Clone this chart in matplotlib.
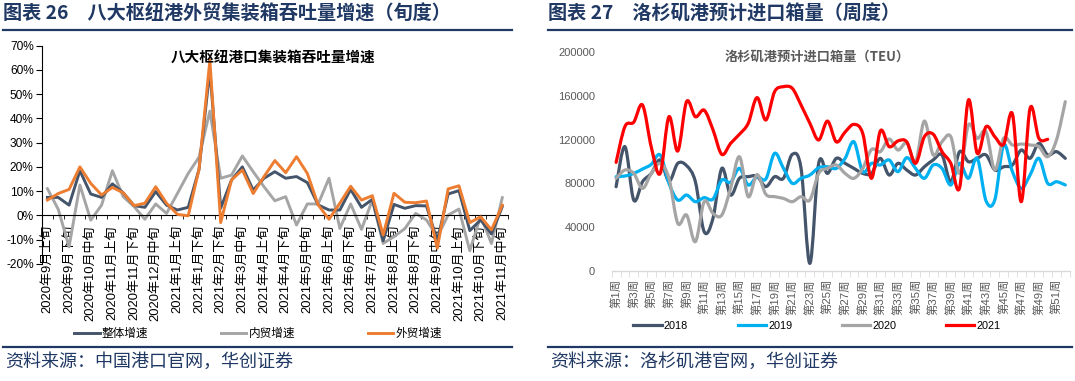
import matplotlib.pyplot as plt
import numpy as np
from matplotlib.lines import Line2D
from matplotlib.patches import PathPatch
from matplotlib.path import Path

plt.rcParams["font.family"] = ["Liberation Sans", "Noto Sans CJK SC", "DejaVu Sans"]

W, H = 1075, 381

# ---- left chart: 八大枢纽港 (旬度, %) ----
DEKADS = [
    "2020年9月上旬", "2020年9月中旬", "2020年9月下旬",
    "2020年10月上旬", "2020年10月中旬", "2020年10月下旬",
    "2020年11月上旬", "2020年11月中旬", "2020年11月下旬",
    "2020年12月上旬", "2020年12月中旬", "2020年12月下旬",
    "2021年1月上旬", "2021年1月中旬", "2021年1月下旬",
    "2021年2月上旬", "2021年2月下旬",
    "2021年3月上旬", "2021年3月中旬", "2021年3月下旬",
    "2021年4月上旬", "2021年4月中旬", "2021年4月下旬",
    "2021年5月上旬", "2021年5月中旬", "2021年5月下旬",
    "2021年6月上旬", "2021年6月中旬", "2021年6月下旬",
    "2021年7月上旬", "2021年7月中旬", "2021年7月下旬",
    "2021年8月上旬", "2021年8月中旬", "2021年8月下旬",
    "2021年9月上旬", "2021年9月中旬", "2021年9月下旬",
    "2021年10月上旬", "2021年10月中旬", "2021年10月下旬",
    "2021年11月上旬", "2021年11月中旬",
]
TOTAL = [7.4, 7.4, 4.2, 18.4, 8.8, 7.4, 13.0, 9.3, 4.0, 3.3, 9.8, 4.2, 2.2, 3.3,
         19.0, 60.0, 3.0, 14.6, 20.0, 10.4, 15.3, 18.0, 15.3, 16.0, 13.5, 4.3,
         2.2, 2.2, 10.7, 3.3, 6.6, -10.5, 4.5, 2.9, 4.0, 3.9, -10.5, 8.8, 10.2,
         -6.3, -1.9, -7.7, 3.6]
DOMESTIC = [11.0, 2.5, -13.0, 12.5, -2.0, 4.2, 18.4, 7.7, 3.6, -1.6, 4.7, 0.8,
            9.0, 17.3, 24.0, 43.0, 15.3, 16.6, 24.5, 18.0, 11.8, 6.0, 7.7, -4.0,
            4.7, 4.7, 15.3, -5.4, 4.7, -5.8, 6.3, -11.6, -8.8, -5.5, 0.8, -1.9,
            -9.0, 0.1, 2.6, -14.6, -0.3, -11.6, 7.3]
FOREIGN = [6.3, 9.0, 10.7, 20.0, 13.2, 8.4, 11.5, 9.3, 4.0, 5.0, 11.8, 5.0, 0.4,
           -0.2, 19.0, 64.0, -3.0, 14.6, 18.7, 9.0, 16.0, 22.6, 17.6, 24.2, 17.3,
           4.3, -1.6, 5.0, 12.0, 6.3, 8.1, -8.1, 9.1, 5.4, 5.2, 5.9, -13.6, 10.9,
           12.2, -3.0, -0.6, -6.0, 4.2]

# ---- right chart: 洛杉矶港 (周度, TEU) ----
WEEKS = list(range(1, 53))
Y2018 = [76900, 113600, 64700, 81500, 89100, 101400, 82000, 98300, 96200, 81500,
         35700, 48000, 93700, 69300, 84600, 86100, 86500, 77000, 86100, 84600,
         106500, 93700, 6700, 98300, 89100, 102900, 98300, 93700, 89100, 89100,
         102900, 87600, 98300, 92200, 87600, 95200, 101400, 106000, 81500, 109000,
         99800, 102900, 106000, 92200, 95200, 96800, 110500, 102900, 116600, 106000,
         109000, 102900]
Y2019 = [86100, 86700, 89100, 93100, 97400, 106000, 80000, 64700, 69300, 63200,
         66900, 65600, 83000, 80900, 93700, 78500, 86100, 84000, 107500, 93700,
         80000, 84600, 87600, 94300, 95200, 93700, 102900, 118100, 90700, 98300,
         96800, 101400, 90700, 103500, 93700, 84600, 96800, 93700, 78500, 98300,
         84600, 102900, 64000, 65000, 115100, 90700, 75400, 87600, 102900, 80000,
         81500, 78500]
Y2020 = [84600, 92200, 89100, 75400, 89100, 98300, 84600, 43400, 51000, 26600,
         63200, 52500, 51000, 75400, 104400, 67800, 88000, 70000, 67800, 66200,
         63200, 67800, 64700, 89100, 93700, 96800, 89100, 84600, 93700, 111000,
         109000, 120600, 110500, 117000, 100000, 137000, 106000, 118100, 122700, 89100,
         133400, 121200, 127300, 92200, 121200, 115100, 116000, 115100, 113600, 104400,
         119700, 154800]
Y2021 = [99200, 132000, 136000, 151700, 113000, 89000, 141000, 109600, 154800, 141000,
         147000, 129000, 106500, 116600, 124900, 135000, 158500, 138000, 164000, 168500,
         167000, 151700, 135000, 119700, 137000, 118000, 127000, 134000, 125800, 84600,
         128000, 113600, 118800, 118000, 98300, 122700, 125000, 109000, 98300, 76000,
         156300, 107500, 131900, 122700, 115700, 143400, 63200, 148700, 121200, 120300]

NAVY = "#203864"
C_TOTAL = "#44546A"
C_GRAY = "#A5A5A5"
C_ORANGE = "#ED7D31"
C_CYAN = "#00B0F0"
C_RED = "#FF0000"
TXT_GRAY = "#595959"


def fx(px):
    return px / W


def fy(py):
    return 1 - py / H


def smooth_path(xs, ys):
    """Excel-like smoothed line as cubic Bezier path through the points"""
    pts = np.column_stack([xs, ys]).astype(float)
    n = len(pts)
    verts = [pts[0]]
    codes = [Path.MOVETO]
    for i in range(n - 1):
        p0 = pts[i - 1] if i > 0 else pts[i]
        p1 = pts[i]
        p2 = pts[i + 1]
        p3 = pts[i + 2] if i + 2 < n else pts[i + 1]
        verts += [p1 + (p2 - p0) / 6, p2 - (p3 - p1) / 6, p2]
        codes += [Path.CURVE4] * 3
    return Path(verts, codes)


fig = plt.figure(figsize=(W / 100, H / 100), dpi=100)

# headers and footers
for x0, x1, head, src in [
    (3, 512, "图表 26　八大枢纽港外贸集装箱吞吐量增速（旬度）", "资料来源：中国港口官网，华创证券"),
    (548, 1072, "图表 27　洛杉矶港预计进口箱量（周度）", "资料来源：洛杉矶港官网，华创证券"),
]:
    fig.text(fx(x0), fy(14), head, fontsize=13.8, fontweight="bold", color=NAVY,
             va="center", family=["Noto Sans CJK SC"])
    fig.add_artist(Line2D([fx(x0), fx(x1)], [fy(30), fy(30)], color=NAVY, lw=1.6))
    fig.add_artist(Line2D([fx(x0), fx(x1)], [fy(347), fy(347)], color=NAVY, lw=1.6))
    fig.text(fx(x0 + 2), fy(362), src, fontsize=13, color=NAVY, va="center",
             family=["Noto Sans CJK SC"])

# ---- left ----
ax1 = fig.add_axes([fx(42), fy(263.8), fx(465.7), 218.1 / H])
ax1.spines["bottom"].set_position(("data", 0))
ax1.spines["top"].set_visible(False)
ax1.spines["right"].set_visible(False)
idx = np.arange(len(DEKADS))
l_tot, = ax1.plot(idx, TOTAL, color=C_TOTAL, lw=2.1, zorder=3)
l_dom, = ax1.plot(idx, DOMESTIC, color=C_GRAY, lw=2.1, zorder=2)
l_for, = ax1.plot(idx, FOREIGN, color=C_ORANGE, lw=2.1, zorder=4)
ax1.set_xlim(-0.5, len(DEKADS) - 0.5)
ax1.set_ylim(-20, 70)
ax1.set_yticks(range(-20, 71, 10))
ax1.set_yticklabels([f"{v}%" for v in range(-20, 71, 10)], fontsize=8.6)
ax1.set_xticks(idx[::2])
ax1.set_xticklabels(DEKADS[::2], rotation=90, fontsize=9.4, va="top")
ax1.set_xticks(np.arange(-0.5, len(DEKADS), 1), minor=True)
ax1.tick_params(axis="x", which="major", length=0, pad=7)
ax1.tick_params(axis="x", which="minor", length=3, direction="out")
ax1.tick_params(axis="y", length=4, direction="out", pad=2)
ax1.set_axisbelow(True)
ax1.patch.set_visible(False)
fig.text(fx(273), fy(57), "八大枢纽港口集装箱吞吐量增速", fontsize=10.5,
         fontweight="bold", ha="center", va="center", family=["Noto Sans CJK SC"])
ax1.legend([l_tot, l_dom, l_for], ["整体增速", "内贸增速", "外贸增速"], loc="center",
           bbox_to_anchor=(fx(258), fy(334)), bbox_transform=fig.transFigure,
           ncol=3, frameon=False, fontsize=8.4, handlelength=2.2,
           handletextpad=0.2, columnspacing=6.2)

# ---- right ----
ax2 = fig.add_axes([fx(611.7), fy(270.7), fx(458), 218.4 / H])
handles = []
for ys, c in [(Y2018, C_TOTAL), (Y2019, C_CYAN), (Y2020, C_GRAY), (Y2021, C_RED)]:
    ax2.add_patch(PathPatch(smooth_path(WEEKS[:len(ys)], ys), fill=False,
                            edgecolor=c, lw=2.3, capstyle="round", joinstyle="round"))
    handles.append(Line2D([], [], color=c, lw=2.3))
ax2.set_xlim(0.5, len(WEEKS) + 0.5)
ax2.set_ylim(0, 200000)
ax2.set_yticks(range(0, 200001, 40000))
ax2.set_yticklabels([str(v) for v in range(0, 200001, 40000)], fontsize=8,
                    color=TXT_GRAY)
ax2.set_xticks(WEEKS[::2])
ax2.set_xticklabels([f"第{w}周" for w in WEEKS[::2]], rotation=90, fontsize=8.2,
                    color=TXT_GRAY)
ax2.set_xticks(np.arange(0.5, len(WEEKS) + 1, 1), minor=True)
ax2.tick_params(axis="x", which="major", length=0, pad=6)
ax2.tick_params(axis="x", which="minor", length=4, direction="out", color="#D9D9D9")
ax2.tick_params(axis="y", length=0, pad=12)
for s in ["top", "right", "left"]:
    ax2.spines[s].set_visible(False)
ax2.spines["bottom"].set_color("#D9D9D9")
ax2.spines["bottom"].set_linewidth(1.0)
fig.text(fx(817), fy(57), "洛杉矶港预计进口箱量（TEU）", fontsize=9.5,
         fontweight="bold", color=TXT_GRAY, ha="center", va="center",
         family=["Noto Sans CJK SC"])
ax2.legend(handles, ["2018", "2019", "2020", "2021"], loc="center",
           bbox_to_anchor=(fx(817), fy(326)), bbox_transform=fig.transFigure,
           ncol=4, frameon=False, fontsize=7.8, handlelength=2.6,
           handletextpad=0.2, columnspacing=4.6)

fig.savefig("out.png", dpi=100)
